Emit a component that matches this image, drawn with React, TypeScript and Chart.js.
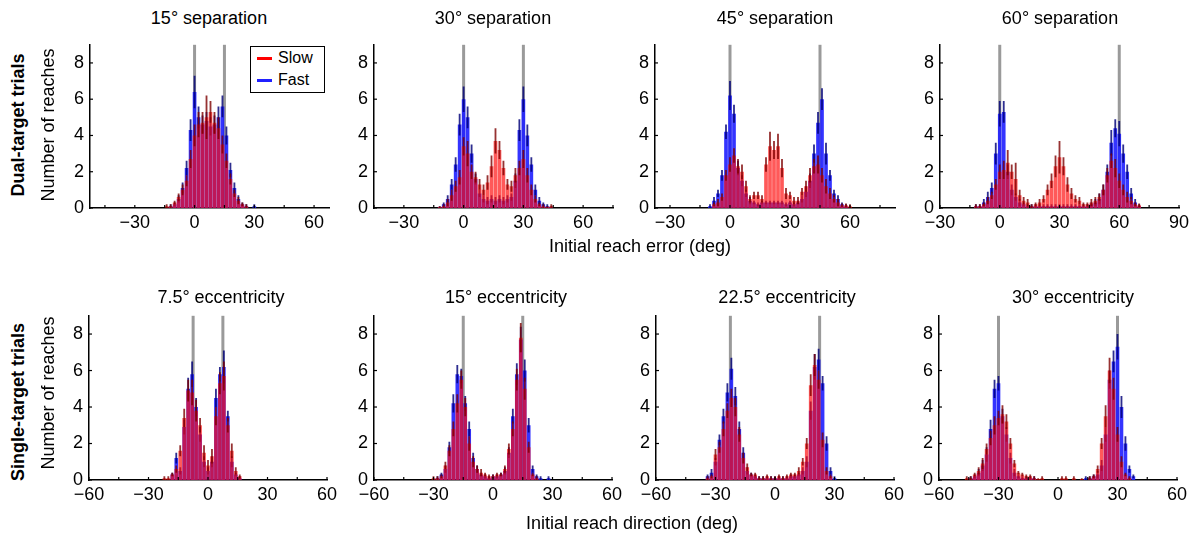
import React, { useEffect, useRef } from 'react';
import { Chart, registerables } from 'chart.js';

Chart.register(...registerables);

const FONT = '"Liberation Sans", Arial, Helvetica, sans-serif';
const BIN_WIDTH = 2;

// ---------- Dual-target trials (initial reach error, deg) ----------
const sep15Start = -14;
const sep15Fast = [0, 0.1, 0.2, 0.5, 1.1, 2.2, 4.3, 6.4, 5.0, 4.6, 4.8, 4.5, 4.6, 5.0, 5.6, 4.0, 2.1, 1.1, 0.5, 0.2, 0.1, 0, 0.1];
const sep15FastErr = [0, 0.1, 0.1, 0.2, 0.3, 0.4, 0.6, 0.9, 0.6, 0.5, 0.5, 0.5, 0.5, 0.6, 0.6, 0.5, 0.4, 0.3, 0.2, 0.1, 0.1, 0, 0.1];
const sep15Slow = [0.1, 0.1, 0.3, 0.6, 1.0, 1.5, 2.7, 4.0, 4.6, 4.7, 5.0, 5.3, 4.7, 4.4, 3.5, 2.6, 1.6, 0.8, 0.4, 0.2, 0.1, 0, 0];
const sep15SlowErr = [0.1, 0.1, 0.1, 0.2, 0.3, 0.3, 0.5, 0.6, 0.7, 0.6, 1.2, 0.6, 0.6, 0.6, 0.5, 0.4, 0.3, 0.2, 0.2, 0.1, 0.1, 0, 0];

const sep30Start = -12;
const sep30Fast = [0.05, 0.2, 0.5, 1.3, 2.4, 4.6, 6.0, 5.0, 3.0, 1.6, 0.8, 0.5, 0.4, 0.5, 0.4, 0.5, 0.4, 0.5, 0.6, 1.5, 4.3, 6.0, 4.0, 2.4, 1.0, 0.4, 0.2, 0.1, 0.05];
const sep30FastErr = [0.05, 0.1, 0.2, 0.3, 0.4, 0.6, 0.7, 0.6, 0.5, 0.3, 0.2, 0.2, 0.2, 0.2, 0.2, 0.2, 0.2, 0.2, 0.2, 0.4, 0.6, 0.7, 0.6, 0.4, 0.3, 0.2, 0.1, 0.1, 0.05];
const sep30Slow = [0.05, 0.1, 0.3, 0.7, 1.2, 1.7, 3.4, 3.0, 2.0, 1.7, 1.3, 1.0, 1.4, 2.3, 3.7, 3.2, 2.2, 1.3, 1.2, 1.8, 2.2, 2.7, 1.8, 1.0, 0.5, 0.2, 0.1, 0.05, 0.1];
const sep30SlowErr = [0.05, 0.1, 0.2, 0.3, 0.3, 0.4, 0.5, 0.7, 0.4, 0.3, 0.3, 0.3, 0.4, 0.6, 0.7, 0.5, 0.4, 0.3, 0.3, 0.4, 0.4, 0.5, 0.4, 0.3, 0.2, 0.1, 0.1, 0.05, 0.1];

const sep45Start = -10;
const sep45Fast = [0.1, 0.4, 0.8, 1.8, 4.2, 6.2, 5.2, 2.2, 1.5, 0.8, 0.4, 0.3, 0.2, 0.3, 0.3, 0.3, 0.3, 0.3, 0.3, 0.2, 0.3, 0.2, 0.3, 0.5, 0.9, 1.5, 3.0, 4.7, 6.0, 3.0, 1.8, 0.8, 0.5, 0.2, 0.1, 0];
const sep45FastErr = [0.1, 0.2, 0.2, 0.3, 0.4, 0.8, 0.5, 0.4, 0.3, 0.2, 0.2, 0.1, 0.1, 0.1, 0.1, 0.1, 0.1, 0.1, 0.1, 0.1, 0.1, 0.1, 0.1, 0.2, 0.3, 0.4, 0.5, 0.6, 0.6, 0.6, 0.3, 0.2, 0.2, 0.1, 0.1, 0];
const sep45Slow = [0, 0.2, 0.3, 0.6, 1.8, 2.4, 2.9, 2.3, 2.0, 1.2, 0.5, 0.7, 0.7, 0.5, 2.4, 3.4, 3.2, 3.4, 2.2, 0.8, 0.7, 0.4, 0.4, 0.9, 1.2, 1.8, 2.3, 2.4, 1.8, 1.2, 0.8, 0.5, 0.3, 0.15, 0.15, 0.1];
const sep45SlowErr = [0, 0.1, 0.2, 0.2, 0.3, 0.4, 0.4, 0.4, 0.4, 0.3, 0.2, 0.2, 0.2, 0.2, 0.4, 0.8, 0.5, 0.7, 0.5, 0.3, 0.2, 0.2, 0.2, 0.2, 0.3, 0.4, 0.4, 0.5, 0.4, 0.4, 0.3, 0.2, 0.2, 0.1, 0.1, 0.1];

const sep60Start = -12;
const sep60Fast = [0.1, 0.1, 0.3, 0.6, 1.1, 3.0, 5.2, 5.3, 2.0, 1.0, 0.6, 0.3, 0.2, 0.1, 0.1, 0.1, 0.1, 0.1, 0.1, 0.1, 0.1, 0.1, 0.1, 0.1, 0.1, 0.1, 0.1, 0.1, 0.1, 0.2, 0.3, 0.5, 1.0, 2.0, 3.6, 4.4, 4.1, 3.0, 2.0, 0.8, 0.3, 0.1];
const sep60FastErr = [0.1, 0.1, 0.2, 0.3, 0.3, 0.6, 0.7, 0.6, 0.4, 0.3, 0.2, 0.2, 0.1, 0.1, 0.1, 0.1, 0.1, 0.1, 0.1, 0.1, 0.1, 0.1, 0.1, 0.1, 0.1, 0.1, 0.1, 0.1, 0.1, 0.1, 0.2, 0.3, 0.3, 0.4, 0.7, 0.5, 0.7, 0.5, 0.4, 0.3, 0.2, 0.1];
const sep60Slow = [0.1, 0.1, 0.2, 0.4, 0.7, 1.3, 2.0, 2.1, 2.5, 2.0, 1.6, 0.7, 0.4, 0.3, 0.1, 0.2, 0.3, 0.5, 1.0, 1.5, 2.3, 2.8, 2.3, 1.3, 0.8, 0.5, 0.4, 0.2, 0.2, 0.3, 0.4, 0.6, 1.0, 1.8, 2.6, 2.2, 1.5, 1.0, 0.6, 0.4, 0.2, 0.15];
const sep60SlowErr = [0.1, 0.1, 0.1, 0.2, 0.2, 0.3, 0.4, 0.5, 0.7, 0.4, 0.9, 0.3, 0.2, 0.2, 0.1, 0.1, 0.2, 0.2, 0.3, 0.4, 0.6, 0.9, 0.5, 0.4, 0.3, 0.2, 0.2, 0.1, 0.1, 0.2, 0.2, 0.2, 0.3, 0.4, 0.4, 0.5, 0.4, 0.3, 0.3, 0.2, 0.1, 0.1];

// ---------- Single-target trials (initial reach direction, deg) ----------
const ecc7Start = -22;
const ecc7Fast = [0, 0, 0.3, 1.2, 0.5, 2.9, 5.0, 5.8, 4.0, 2.5, 1.0, 0.5, 1.0, 4.5, 5.8, 6.2, 3.5, 1.0, 0.3, 0.1];
const ecc7FastErr = [0, 0, 0.1, 0.3, 0.2, 0.4, 0.6, 0.7, 0.5, 0.4, 0.3, 0.2, 0.3, 0.5, 0.4, 0.9, 0.3, 0.3, 0.1, 0.1];
const ecc7Slow = [0.1, 0.1, 0.3, 0.6, 1.6, 3.4, 4.9, 4.8, 3.8, 3.0, 1.5, 0.8, 1.3, 3.5, 5.3, 5.7, 3.0, 1.6, 0.5, 0.2];
const ecc7SlowErr = [0.1, 0.1, 0.1, 0.2, 0.3, 0.5, 0.6, 0.7, 0.6, 0.4, 0.4, 0.3, 0.4, 0.5, 0.6, 0.8, 0.4, 0.4, 0.2, 0.1];

const ecc15Start = -30;
const ecc15Fast = [0, 0.1, 0.3, 0.6, 1.8, 4.2, 5.8, 5.7, 4.2, 2.8, 1.2, 0.6, 0.3, 0.2, 0.1, 0.2, 0.2, 0.3, 0.5, 1.5, 3.5, 5.8, 7.7, 6.0, 3.0, 0.6, 0.2, 0.1, 0, 0.1];
const ecc15FastErr = [0, 0.1, 0.1, 0.2, 0.3, 0.5, 0.5, 0.4, 0.4, 0.4, 0.3, 0.2, 0.1, 0.1, 0.1, 0.1, 0.1, 0.1, 0.2, 0.3, 0.4, 0.6, 0.7, 0.6, 0.4, 0.2, 0.1, 0.1, 0, 0.1];
const ecc15Slow = [0.1, 0.1, 0.2, 0.8, 1.6, 2.8, 4.2, 5.5, 4.0, 2.0, 1.0, 0.6, 0.4, 0.3, 0.2, 0.2, 0.3, 0.3, 0.6, 1.7, 2.8, 5.5, 7.8, 5.0, 1.8, 0.3, 0.1, 0, 0, 0];
const ecc15SlowErr = [0.1, 0.1, 0.1, 0.2, 0.3, 0.4, 0.5, 0.5, 0.5, 0.4, 0.3, 0.2, 0.2, 0.1, 0.1, 0.1, 0.1, 0.1, 0.2, 0.3, 0.4, 0.6, 0.8, 0.6, 0.3, 0.1, 0.1, 0, 0, 0];

const ecc22Start = -34;
const ecc22Fast = [0.2, 0.4, 1.0, 2.2, 3.5, 4.8, 6.1, 4.6, 2.8, 1.5, 0.5, 0.3, 0.2, 0.1, 0.1, 0.1, 0.1, 0.1, 0.1, 0.1, 0.1, 0.2, 0.2, 0.3, 0.5, 1.0, 3.8, 6.2, 6.6, 5.3, 2.0, 0.5, 0.1];
const ecc22FastErr = [0.1, 0.2, 0.2, 0.3, 0.4, 0.5, 0.6, 0.5, 0.4, 0.3, 0.2, 0.1, 0.1, 0.1, 0.1, 0.1, 0.1, 0.1, 0.1, 0.1, 0.1, 0.1, 0.1, 0.1, 0.2, 0.3, 0.5, 0.7, 0.6, 0.4, 0.4, 0.2, 0.1];
const ecc22Slow = [0.1, 0.2, 1.4, 1.8, 2.8, 3.8, 4.5, 4.0, 2.5, 1.2, 0.7, 0.3, 0.3, 0.1, 0.1, 0.2, 0.1, 0.1, 0.2, 0.1, 0.2, 0.3, 0.3, 0.5, 1.0, 2.0, 5.2, 6.3, 5.5, 2.2, 0.5, 0.2, 0];
const ecc22SlowErr = [0.1, 0.1, 0.3, 0.3, 0.4, 0.4, 0.5, 0.5, 0.4, 0.3, 0.2, 0.1, 0.1, 0.1, 0.1, 0.1, 0.1, 0.1, 0.1, 0.1, 0.1, 0.1, 0.1, 0.2, 0.2, 0.3, 0.6, 0.6, 0.5, 0.4, 0.2, 0.1, 0];

const ecc30Start = -46;
const ecc30Fast = [0, 0.1, 0.2, 0.4, 0.8, 1.4, 2.8, 5.0, 5.3, 3.5, 2.5, 1.2, 0.4, 0.2, 0.1, 0.1, 0.1, 0.1, 0, 0, 0, 0, 0, 0, 0, 0, 0, 0, 0, 0, 0.1, 0.1, 0.2, 0.3, 0.8, 2.5, 5.5, 6.5, 7.3, 4.0, 2.0, 0.6, 0.2];
const ecc30FastErr = [0, 0.1, 0.1, 0.2, 0.3, 0.4, 0.5, 0.5, 0.4, 0.4, 0.4, 0.3, 0.2, 0.1, 0.1, 0.1, 0.1, 0.1, 0, 0, 0, 0, 0, 0, 0, 0, 0, 0, 0, 0, 0.1, 0.1, 0.1, 0.2, 0.3, 0.4, 0.5, 0.6, 0.7, 0.6, 0.4, 0.2, 0.1];
const ecc30Slow = [0.1, 0.1, 0.3, 0.5, 0.9, 1.7, 2.3, 3.0, 3.4, 3.6, 3.2, 2.0, 0.9, 0.4, 0.3, 0.2, 0.2, 0.1, 0.05, 0.1, 0, 0, 0, 0, 0.1, 0.1, 0, 0.1, 0, 0.05, 0, 0.1, 0.2, 0.6, 2.0, 3.5, 6.0, 5.0, 2.5, 1.0, 0.3, 0.1, 0];
const ecc30SlowErr = [0.1, 0.1, 0.1, 0.2, 0.3, 0.3, 0.4, 0.5, 0.4, 0.5, 0.4, 0.3, 0.2, 0.1, 0.1, 0.1, 0.1, 0.1, 0.05, 0.1, 0, 0, 0, 0, 0.1, 0.1, 0, 0.1, 0, 0.05, 0, 0.1, 0.1, 0.2, 0.3, 0.6, 0.7, 0.6, 0.4, 0.3, 0.1, 0.1, 0];

// ---------- Axes ----------
const ticks15 = [-45, -30, -15, 0, 15, 30, 45, 60];
const ticks30 = [-45, -30, -15, 0, 15, 30, 45, 60, 75];
const ticks45 = [-30, -15, 0, 15, 30, 45, 60, 75];
const ticks60 = [-30, -15, 0, 15, 30, 45, 60, 75, 90];
const ticksEcc = [-60, -45, -30, -15, 0, 15, 30, 45, 60];
const labelsSep = [-30, 0, 30, 60, 90];
const labelsEcc = [-60, -30, 0, 30, 60];
const yTicks = [0, 2, 4, 6, 8];

const titlesTop = ['15° separation', '30° separation', '45° separation', '60° separation'];
const titlesBottom = ['7.5° eccentricity', '15° eccentricity', '22.5° eccentricity', '30° eccentricity'];

type PanelDef = {
  left: number; top: number; width: number; height: number;
  xMin: number; xMax: number; xTicks: number[]; xLabels: number[];
  targets: number[]; start: number;
  fast: number[]; fastErr: number[]; slow: number[]; slowErr: number[];
};

const TOP_Y = 43, TOP_H = 165, BOT_Y = 314, BOT_H = 166;

const PANELS: PanelDef[] = [
  { left: 90, top: TOP_Y, width: 239, height: TOP_H, xMin: -52.5, xMax: 67.5, xTicks: ticks15, xLabels: labelsSep, targets: [0, 15], start: sep15Start, fast: sep15Fast, fastErr: sep15FastErr, slow: sep15Slow, slowErr: sep15SlowErr },
  { left: 374, top: TOP_Y, width: 239, height: TOP_H, xMin: -45, xMax: 75, xTicks: ticks30, xLabels: labelsSep, targets: [0, 30], start: sep30Start, fast: sep30Fast, fastErr: sep30FastErr, slow: sep30Slow, slowErr: sep30SlowErr },
  { left: 655, top: TOP_Y, width: 240, height: TOP_H, xMin: -37.5, xMax: 82.5, xTicks: ticks45, xLabels: labelsSep, targets: [0, 45], start: sep45Start, fast: sep45Fast, fastErr: sep45FastErr, slow: sep45Slow, slowErr: sep45SlowErr },
  { left: 940, top: TOP_Y, width: 239, height: TOP_H, xMin: -30, xMax: 90, xTicks: ticks60, xLabels: labelsSep, targets: [0, 60], start: sep60Start, fast: sep60Fast, fastErr: sep60FastErr, slow: sep60Slow, slowErr: sep60SlowErr },
  { left: 89, top: BOT_Y, width: 238, height: BOT_H, xMin: -60, xMax: 60, xTicks: ticksEcc, xLabels: labelsEcc, targets: [-7.5, 7.5], start: ecc7Start, fast: ecc7Fast, fastErr: ecc7FastErr, slow: ecc7Slow, slowErr: ecc7SlowErr },
  { left: 374, top: BOT_Y, width: 238, height: BOT_H, xMin: -60, xMax: 60, xTicks: ticksEcc, xLabels: labelsEcc, targets: [-15, 15], start: ecc15Start, fast: ecc15Fast, fastErr: ecc15FastErr, slow: ecc15Slow, slowErr: ecc15SlowErr },
  { left: 656, top: BOT_Y, width: 238, height: BOT_H, xMin: -60, xMax: 60, xTicks: ticksEcc, xLabels: labelsEcc, targets: [-22.5, 22.5], start: ecc22Start, fast: ecc22Fast, fastErr: ecc22FastErr, slow: ecc22Slow, slowErr: ecc22SlowErr },
  { left: 939, top: BOT_Y, width: 238, height: BOT_H, xMin: -60, xMax: 60, xTicks: ticksEcc, xLabels: labelsEcc, targets: [-30, 30], start: ecc30Start, fast: ecc30Fast, fastErr: ecc30FastErr, slow: ecc30Slow, slowErr: ecc30SlowErr },
];

const PAD_L = 45, PAD_T = 15, PAD_R = 24, PAD_B = 36;

const fmt = (v: number) => (v < 0 ? '\u2212' + Math.abs(v) : String(v));

function barPoints(start: number, vals: number[]) {
  return vals.map((v, i) => ({ x: start + i * BIN_WIDTH, y: v }));
}
function errPoints(start: number, vals: number[], errs: number[]) {
  return vals.map((v, i) => {
    const e = errs[i] ?? 0;
    return { x: start + i * BIN_WIDTH, y: [Math.max(0, v - e), v + e] };
  });
}

function Panel({ p }: { p: PanelDef }) {
  const ref = useRef<HTMLCanvasElement | null>(null);
  useEffect(() => {
    if (!ref.current) return;
    const decor = {
      id: 'decor',
      beforeDatasetsDraw(chart: any) {
        const { ctx, chartArea, scales } = chart;
        ctx.save();
        ctx.strokeStyle = '#9a9a9a';
        ctx.lineWidth = 3;
        p.targets.forEach((t) => {
          const px = scales.x.getPixelForValue(t);
          ctx.beginPath();
          ctx.moveTo(px, chartArea.top);
          ctx.lineTo(px, chartArea.bottom);
          ctx.stroke();
        });
        ctx.restore();
      },
      afterDraw(chart: any) {
        const { ctx, chartArea, scales } = chart;
        ctx.save();
        ctx.strokeStyle = '#000';
        ctx.lineWidth = 1.2;
        p.xTicks.forEach((t) => {
          const px = scales.x.getPixelForValue(t);
          ctx.beginPath();
          ctx.moveTo(px, chartArea.bottom);
          ctx.lineTo(px, chartArea.bottom - 3);
          ctx.stroke();
        });
        yTicks.forEach((t) => {
          const py = scales.y.getPixelForValue(t);
          ctx.beginPath();
          ctx.moveTo(chartArea.left, py);
          ctx.lineTo(chartArea.left + 3, py);
          ctx.stroke();
        });
        ctx.restore();
      },
    };
    const tickFont = { family: FONT, size: 18 };
    const chart = new Chart(ref.current, {
      type: 'bar',
      data: {
        datasets: [
          { label: 'Slow SEM', data: errPoints(p.start, p.slow, p.slowErr) as any, backgroundColor: 'rgba(125,0,0,0.8)', borderWidth: 0, barPercentage: 0.46, categoryPercentage: 1, grouped: false },
          { label: 'Slow', data: barPoints(p.start, p.slow) as any, backgroundColor: 'rgba(255,10,10,0.68)', borderWidth: 0, barPercentage: 0.92, categoryPercentage: 1, grouped: false },
          { label: 'Fast SEM', data: errPoints(p.start, p.fast, p.fastErr) as any, backgroundColor: 'rgba(0,0,120,0.82)', borderWidth: 0, barPercentage: 0.46, categoryPercentage: 1, grouped: false },
          { label: 'Fast', data: barPoints(p.start, p.fast) as any, backgroundColor: 'rgba(30,30,255,0.9)', borderWidth: 0, barPercentage: 0.92, categoryPercentage: 1, grouped: false },
        ],
      },
      options: {
        animation: false,
        responsive: false,
        events: [],
        layout: { padding: { top: PAD_T, right: PAD_R, left: 0, bottom: 0 } },
        plugins: { legend: { display: false }, tooltip: { enabled: false }, title: { display: false } },
        scales: {
          x: {
            type: 'linear',
            min: p.xMin,
            max: p.xMax,
            offset: false,
            afterBuildTicks: (s: any) => { s.ticks = p.xTicks.map((v) => ({ value: v })); },
            afterFit: (s: any) => { s.height = PAD_B; },
            grid: { display: false, drawTicks: false, offset: false },
            border: { display: true, color: '#000', width: 1.5 },
            ticks: {
              autoSkip: false,
              maxRotation: 0,
              padding: 4,
              color: '#000',
              font: tickFont,
              callback: (v: any) => (p.xLabels.includes(Number(v)) ? fmt(Number(v)) : ''),
            },
          },
          y: {
            min: 0,
            max: 9,
            afterBuildTicks: (s: any) => { s.ticks = yTicks.map((v) => ({ value: v })); },
            afterFit: (s: any) => { s.width = PAD_L; },
            grid: { display: false, drawTicks: false },
            border: { display: true, color: '#000', width: 1.5 },
            ticks: { padding: 6, color: '#000', font: tickFont, callback: (v: any) => String(v) },
          },
        },
      } as any,
      plugins: [decor],
    });
    return () => chart.destroy();
  }, [p]);
  const w = p.width + PAD_L + PAD_R;
  const h = p.height + PAD_T + PAD_B;
  return (
    <canvas
      ref={ref}
      width={w}
      height={h}
      style={{ position: 'absolute', left: p.left - PAD_L, top: p.top - PAD_T, width: w, height: h }}
    />
  );
}

const textBase: React.CSSProperties = {
  position: 'absolute',
  whiteSpace: 'nowrap',
  fontSize: 18,
  lineHeight: '20px',
  color: '#000',
};

function Label({ x, y, text, rotate, bold, size }: { x: number; y: number; text: string; rotate?: boolean; bold?: boolean; size?: number }) {
  return (
    <div
      style={{
        ...textBase,
        left: x,
        top: y,
        fontSize: size ?? 18,
        fontWeight: bold ? 700 : 400,
        transform: rotate ? 'translate(-50%,-50%) rotate(-90deg)' : 'translate(-50%,-50%)',
      }}
    >
      {text}
    </div>
  );
}

const titleTopX = [209, 493, 775, 1060];
const titleBottomX = [221, 506, 787, 1073];

export default function App() {
  useEffect(() => {
    document.body.style.margin = '0';
  }, []);
  return (
    <div style={{ position: 'absolute', left: 0, top: 0, width: 1195, height: 534, background: '#fff', fontFamily: FONT, overflow: 'hidden' }}>
      {PANELS.map((p, i) => (
        <Panel key={i} p={p} />
      ))}
      {titlesTop.map((t, i) => (
        <Label key={'tt' + i} x={titleTopX[i]} y={18} text={t} />
      ))}
      {titlesBottom.map((t, i) => (
        <Label key={'tb' + i} x={titleBottomX[i]} y={297} text={t} />
      ))}
      <Label x={640} y={246} text="Initial reach error (deg)" />
      <Label x={632} y={523} text="Initial reach direction (deg)" />
      <Label x={18} y={125} text="Dual-target trials" rotate bold />
      <Label x={48} y={125} text="Number of reaches" rotate />
      <Label x={18} y={402} text="Single-target trials" rotate bold />
      <Label x={48} y={393} text="Number of reaches" rotate />
      <div
        style={{
          position: 'absolute', left: 250, top: 46, width: 73, height: 45,
          border: '1.5px solid #000', background: '#fff', zIndex: 5,
        }}
      >
        <div style={{ position: 'absolute', left: 6, top: 10, width: 15, height: 3, background: '#ff0000' }} />
        <div style={{ position: 'absolute', left: 27, top: 1, fontSize: 16, lineHeight: '20px' }}>Slow</div>
        <div style={{ position: 'absolute', left: 6, top: 32, width: 15, height: 3, background: '#2020ff' }} />
        <div style={{ position: 'absolute', left: 27, top: 23, fontSize: 16, lineHeight: '20px' }}>Fast</div>
      </div>
    </div>
  );
}
